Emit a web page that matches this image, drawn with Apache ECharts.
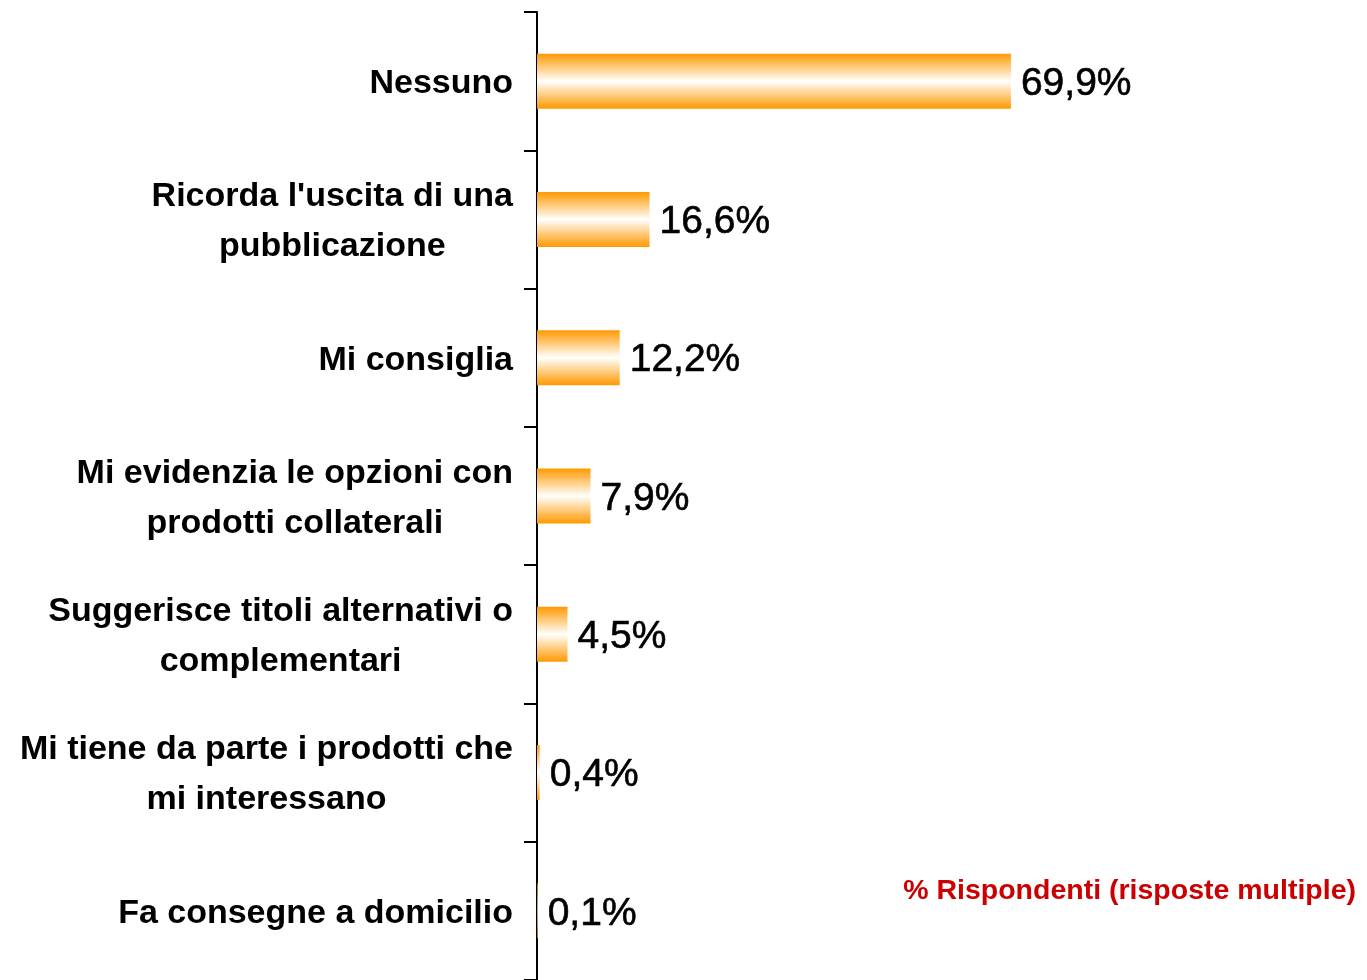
<!DOCTYPE html>
<html>
<head>
<meta charset="utf-8">
<script src="https://cdn.jsdelivr.net/npm/echarts@6/dist/echarts.min.js"></script>
<style>
  html, body { margin: 0; padding: 0; background: #fff; }
  #chart { width: 1367px; height: 980px; }
</style>
</head>
<body>
<div id="chart"></div>
<script>
// categorie dal basso verso l'alto (asse y category parte dal basso)
var categories = [
  'Fa consegne a domicilio',
  'Mi tiene da parte i prodotti che\nmi interessano',
  'Suggerisce titoli alternativi o\ncomplementari',
  'Mi evidenzia le opzioni con\nprodotti collaterali',
  'Mi consiglia',
  "Ricorda l'uscita di una\npubblicazione",
  'Nessuno'
];
var values = [0.1, 0.4, 4.5, 7.9, 12.2, 16.6, 69.9];
var noteText = '% Rispondenti (risposte multiple)';

var myChart = echarts.init(document.getElementById('chart'));

var barColor = new echarts.graphic.LinearGradient(0, 0, 0, 1, [
  { offset: 0, color: '#FF9900' },
  { offset: 0.5, color: '#FFFFFF' },
  { offset: 1, color: '#FF9900' }
]);

myChart.setOption({
  animation: false,
  backgroundColor: '#fff',
  title: {
    text: noteText,
    right: 6,
    top: 872,
    textStyle: {
      color: '#CC0000',
      fontFamily: 'Liberation Sans',
      fontWeight: 'bold',
      fontSize: 28.5
    }
  },
  grid: {
    left: 537,
    top: 12,
    width: 678,
    bottom: -2,
    containLabel: false
  },
  xAxis: {
    type: 'value',
    min: 0,
    max: 100,
    show: false
  },
  yAxis: {
    type: 'category',
    data: categories,
    axisLine: { show: true, lineStyle: { color: '#000', width: 2 } },
    axisTick: { show: true, length: 13, lineStyle: { color: '#000', width: 2 } },
    axisLabel: {
      margin: 24,
      align: 'right',
      padding: [5, 0, 0, 0],
      formatter: function (v) {
        return v.split('\n').map(function (s) { return '{c|' + s + '}'; }).join('\n');
      },
      rich: {
        c: {
          align: 'center',
          fontFamily: 'Liberation Sans',
          fontWeight: 'bold',
          fontSize: 34,
          lineHeight: 50,
          color: '#000'
        }
      }
    },
    splitLine: { show: false }
  },
  series: [{
    type: 'bar',
    data: values,
    barWidth: 55,
    itemStyle: { color: barColor },
    label: {
      show: true,
      position: 'right',
      distance: 10,
      offset: [0, 3],
      formatter: function (p) { return '{v|' + String(p.value).replace('.', ',') + '%}'; },
      rich: {
        v: {
          fontFamily: 'Liberation Sans',
          fontSize: 39,
          color: '#000',
          textBorderColor: '#000',
          textBorderWidth: 0.6
        }
      }
    }
  }]
});
</script>
</body>
</html>
